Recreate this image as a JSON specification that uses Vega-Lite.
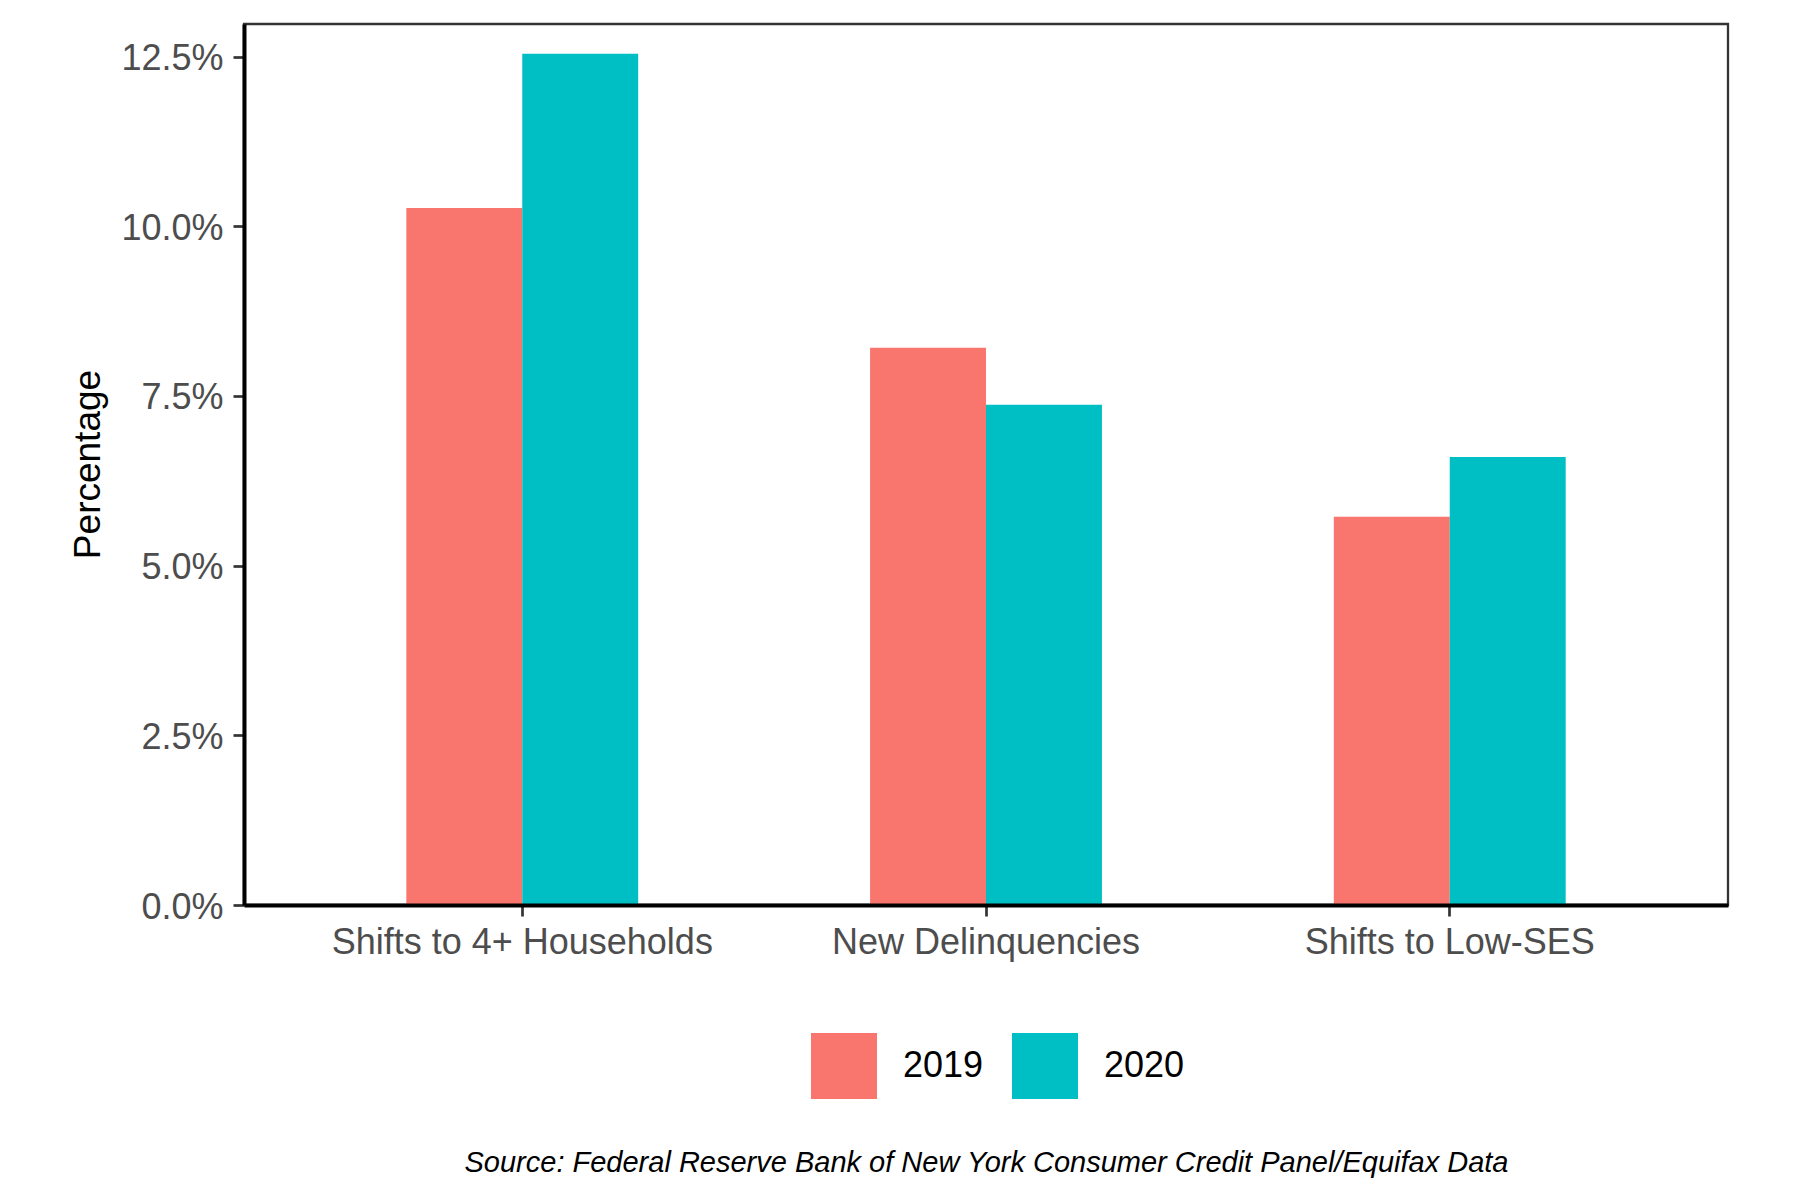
{
  "$schema": "https://vega.github.io/schema/vega-lite/v6.json",
  "width": 1484,
  "height": 881,
  "autosize": {"type": "none"},
  "padding": {"left": 244, "top": 24, "right": 72, "bottom": 295},
  "background": "white",
  "data": {
    "values": [
      {"measure": "Shifts to 4+ Households", "year": "2019", "pct": 10.27},
      {"measure": "Shifts to 4+ Households", "year": "2020", "pct": 12.54},
      {"measure": "New Delinquencies", "year": "2019", "pct": 8.21},
      {"measure": "New Delinquencies", "year": "2020", "pct": 7.37},
      {"measure": "Shifts to Low-SES", "year": "2019", "pct": 5.72},
      {"measure": "Shifts to Low-SES", "year": "2020", "pct": 6.6}
    ]
  },
  "mark": {"type": "bar"},
  "encoding": {
    "x": {
      "field": "measure",
      "type": "nominal",
      "sort": ["Shifts to 4+ Households", "New Delinquencies", "Shifts to Low-SES"],
      "scale": {"paddingInner": 0.5, "paddingOuter": 0.35},
      "axis": {
        "title": "Source: Federal Reserve Bank of New York Consumer Credit Panel/Equifax Data",
        "titleFont": "Liberation Sans",
        "titleFontStyle": "italic",
        "titleFontWeight": "normal",
        "titleFontSize": 29,
        "titleColor": "black",
        "titleX": 742,
        "titleY": 266,
        "titleAlign": "center",
        "titleBaseline": "alphabetic",
        "labelAngle": 0,
        "labelFont": "Liberation Sans",
        "labelFontSize": 36,
        "labelColor": "#4D4D4D",
        "labelPadding": 9.5,
        "labelLimit": 800,
        "tickSize": 11,
        "tickWidth": 2.7,
        "tickColor": "#333333",
        "domainColor": "black",
        "domainWidth": 4,
        "grid": false,
        "zindex": 1
      }
    },
    "xOffset": {
      "field": "year",
      "type": "nominal",
      "scale": {"paddingInner": 0, "paddingOuter": 0}
    },
    "y": {
      "field": "pct",
      "type": "quantitative",
      "scale": {"domain": [0, 12.98], "nice": false, "zero": true},
      "axis": {
        "title": "Percentage",
        "titleFont": "Liberation Sans",
        "titleFontWeight": "normal",
        "titleFontSize": 37,
        "titleColor": "black",
        "titleAngle": -90,
        "titleX": -145,
        "titleY": 440,
        "titleAlign": "center",
        "titleBaseline": "alphabetic",
        "values": [0, 2.5, 5, 7.5, 10, 12.5],
        "labelExpr": "format(datum.value, '.1f') + '%'",
        "labelFont": "Liberation Sans",
        "labelFontSize": 36,
        "labelColor": "#4D4D4D",
        "labelPadding": 10,
        "labelOffset": 2,
        "tickSize": 11,
        "tickWidth": 2.7,
        "tickColor": "#333333",
        "domainColor": "black",
        "domainWidth": 4,
        "grid": false,
        "zindex": 1
      }
    },
    "color": {
      "field": "year",
      "type": "nominal",
      "scale": {"domain": ["2019", "2020"], "range": ["#F8766D", "#00BFC4"]},
      "legend": {
        "title": null,
        "orient": "none",
        "direction": "horizontal",
        "legendX": 567,
        "legendY": 1009,
        "padding": 0,
        "symbolType": "square",
        "symbolSize": 4356,
        "symbolStrokeWidth": 0,
        "symbolOpacity": 1,
        "labelFont": "Liberation Sans",
        "labelFontSize": 36,
        "labelColor": "black",
        "labelOffset": 26,
        "columnPadding": 28
      }
    }
  },
  "config": {
    "view": {"stroke": "#333333", "strokeWidth": 2.3},
    "font": "Liberation Sans"
  }
}
